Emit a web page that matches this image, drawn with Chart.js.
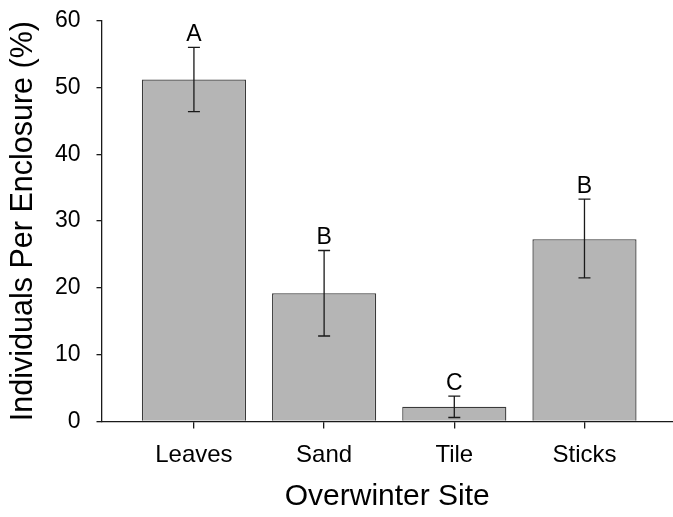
<!DOCTYPE html>
<html>
<head>
<meta charset="utf-8">
<script src="https://cdn.jsdelivr.net/npm/chart.js@4"></script>
<style>
  html, body { margin: 0; padding: 0; background: #fff; }
  #wrap { width: 673px; height: 517px; position: relative; }
</style>
</head>
<body>
<div id="wrap"><canvas id="chart"></canvas></div>
<script>
    // values
    const categories = ['Leaves', 'Sand', 'Tile', 'Sticks'];
    const means = [51.2, 19.2, 2.2, 27.3];
    const upper = [56.0, 25.6, 3.8, 33.3];
    const lower = [46.4, 12.8, 0.6, 21.5];
    const letters = ['A', 'B', 'C', 'B'];
    const yTicks = [0, 10, 20, 30, 40, 50, 60];

    const FONT = "'Liberation Sans', Arial, sans-serif";
    const INK = '#1a1a1a';

    const errorBars = {
        id: 'errorBars',
        afterDatasetsDraw(chart) {
            const ctx = chart.ctx;
            const xs = chart.scales.x;
            const ys = chart.scales.y;
            ctx.save();
            ctx.strokeStyle = INK;
            ctx.lineWidth = 1.3;
            ctx.fillStyle = '#000';
            ctx.font = '23px ' + FONT;
            ctx.textAlign = 'center';
            ctx.textBaseline = 'alphabetic';
            categories.forEach((c, i) => {
                const x = xs.getPixelForValue(i + 1);
                const top = ys.getPixelForValue(upper[i]);
                const bot = ys.getPixelForValue(lower[i]);
                ctx.beginPath();
                ctx.moveTo(x, top); ctx.lineTo(x, bot);
                ctx.moveTo(x - 6, top); ctx.lineTo(x + 6, top);
                ctx.moveTo(x - 6, bot); ctx.lineTo(x + 6, bot);
                ctx.stroke();
                ctx.fillText(letters[i], x, top - 6);
            });
            ctx.restore();
        }
    };

    function noPad(scale) {
        scale.paddingTop = 0;
        scale.paddingBottom = 0;
        scale.paddingLeft = 0;
        scale.paddingRight = 0;
    }

    new Chart(document.getElementById('chart').getContext('2d'), {
        type: 'bar',
        data: {
            datasets: [{
                data: means.map((v, i) => ({ x: i + 1, y: v })),
                backgroundColor: '#b5b5b5',
                borderColor: '#3a3a3a',
                borderWidth: 1.3,
                barPercentage: 0.8,
                categoryPercentage: 1
            }]
        },
        options: {
            responsive: true,
            maintainAspectRatio: false,
            animation: false,
            layout: { padding: { top: 20.7, left: 0, right: 0, bottom: 0 } },
            plugins: {
                legend: { display: false },
                tooltip: { enabled: false }
            },
            scales: {
                x: {
                    type: 'linear',
                    offset: false,
                    min: 0.29,
                    max: 4.68,
                    afterBuildTicks: (scale) => {
                        scale.ticks = categories.map((c, i) => ({ value: i + 1 }));
                    },
                    afterFit: (scale) => { scale.height = 95.5; noPad(scale); },
                    ticks: {
                        callback: (v) => categories[v - 1],
                        color: '#000',
                        font: { family: FONT, size: 24 },
                        padding: 12,
                        maxRotation: 0
                    },
                    grid: { offset: false, drawOnChartArea: false, drawTicks: true, tickLength: 7, color: INK, lineWidth: 1.3 },
                    border: { color: INK, width: 1.3 },
                    title: {
                        display: true,
                        text: 'Overwinter Site',
                        color: '#000',
                        font: { family: FONT, size: 30 },
                        padding: { top: 0, bottom: 2 }
                    }
                },
                y: {
                    min: 0,
                    max: 60,
                    afterBuildTicks: (scale) => {
                        scale.ticks = yTicks.map(v => ({ value: v }));
                    },
                    afterFit: (scale) => { scale.width = 101.5; noPad(scale); },
                    ticks: {
                        color: '#000',
                        font: { family: FONT, size: 23 },
                        padding: 16
                    },
                    grid: { drawOnChartArea: false, drawTicks: true, tickLength: 5, color: INK, lineWidth: 1.3 },
                    border: { color: INK, width: 1.3 },
                    title: {
                        display: true,
                        text: 'Individuals Per Enclosure (%)',
                        color: '#000',
                        font: { family: FONT, size: 30.5 },
                        padding: { top: 5, bottom: 0 }
                    }
                }
            }
        },
        plugins: [errorBars]
    });
</script>
</body>
</html>
